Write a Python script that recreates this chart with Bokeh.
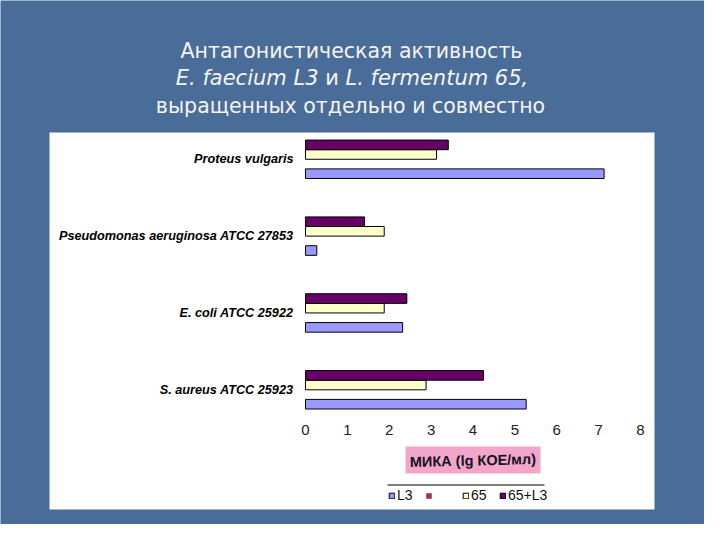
from bokeh.plotting import figure
from bokeh.models import (Range1d, FixedTicker, BoxAnnotation, Label,
                          Legend, LegendItem, ColumnDataSource)
from bokeh.transform import dodge
from bokeh.embed import file_html
from bokeh.resources import INLINE

# ---------------- data ----------------
organisms = ["Proteus vulgaris", "Pseudomonas aeruginosa ATCC 27853",
             "E. coli ATCC 25922", "S. aureus ATCC 25923"]
l3_values = [7.13, 0.27, 2.32, 5.27]
empty_series = [0, 0, 0, 0]
s65_values = [3.13, 1.88, 1.88, 2.88]
s65_l3_values = [3.41, 1.41, 2.42, 4.25]
x_ticks = [0, 1, 2, 3, 4, 5, 6, 7, 8]
series_labels = ["L3", "   ", "65", "65+L3"]
axis_title = "МИКА (lg КОЕ/мл)"
title_line1 = "Антагонистическая активность"
title_line2a = "E. faecium L3"
title_line2b = "и"
title_line2c = "L. fermentum 65,"
title_line3 = "выращенных отдельно и совместно"

# ---------------- layout / style ----------------
BG = "#4a6c98"
W, H = 704, 524
n = len(organisms)
group_y = [n - 1 - i + 0.5 for i in range(n)]          # category positions (top -> bottom)
label_map = {gy: name for gy, name in zip(group_y, organisms)}

src = ColumnDataSource(dict(org=organisms, y=group_y, l3=l3_values, red=empty_series,
                            s65=s65_values, s65l3=s65_l3_values))

px_x = 335 / 8.0          # pixels per x unit
px_y = 76.84              # pixels per category
x0_px = 305               # canvas x of value 0
yc_px = 389.3             # canvas y of bottom category centre
p = figure(width=W, height=H, output_backend="svg", toolbar_location=None,
           x_range=Range1d(-x0_px / px_x, 8 + (W - x0_px - 335) / px_x),
           y_range=Range1d(0.5 - (H - yc_px) / px_y, 0.5 + yc_px / px_y),
           min_border=0, min_border_left=0, min_border_right=0,
           min_border_top=0, min_border_bottom=0)
p.background_fill_color = BG
p.border_fill_color = BG
p.outline_line_color = None
p.xgrid.visible = False
p.ygrid.visible = False

def cbox(l, r, t, b, color, level="underlay"):
    p.add_layout(BoxAnnotation(left=l, right=r, top=t, bottom=b,
                               left_units="canvas", right_units="canvas",
                               top_units="canvas", bottom_units="canvas",
                               fill_color=color, fill_alpha=1, line_color=None,
                               level=level))

# white panel
cbox(49, 654, 132, 509, "white")

series = [("l3", "#9999FF", -0.1875, "black"),
          ("red", "#993366", -0.0625, None),
          ("s65", "#FFFFCC", 0.0625, "black"),
          ("s65l3", "#660066", 0.1875, "black")]
renderers = []
for col, color, off, lc in series:
    r = p.hbar(y=dodge("y", off), left=0, right=col,
               height=0.125, source=src, fill_color=color, line_color=lc,
               line_width=1)
    renderers.append(r)

# axes drawn inside the frame
p.xaxis.fixed_location = 0.5 - 0.4
p.xaxis.ticker = FixedTicker(ticks=x_ticks)
p.xaxis.axis_line_color = None
p.xaxis.major_tick_line_color = None
p.xaxis.minor_tick_line_color = None
p.xaxis.major_tick_out = 0
p.xaxis.major_label_standoff = 4
p.xaxis.major_label_text_font = "Liberation Sans"
p.xaxis.major_label_text_font_size = "15px"
p.xaxis.major_label_text_color = "#222222"

p.yaxis.fixed_location = 0
p.yaxis.ticker = FixedTicker(ticks=group_y)
p.yaxis.major_label_overrides = label_map
p.yaxis.axis_line_color = None
p.yaxis.major_tick_line_color = None
p.yaxis.minor_tick_line_color = None
p.yaxis.major_tick_out = 0
p.yaxis.major_label_standoff = 12
p.yaxis.major_label_text_font = "Liberation Sans"
p.yaxis.major_label_text_font_size = "12.7px"
p.yaxis.major_label_text_font_style = "bold italic"
p.yaxis.major_label_text_color = "black"

# title
TF = "DejaVu Sans"
TC = "#f4f4f4"
def canvas_label(x, y, text, align, style="normal", size="20.5px", font=TF, color=TC,
                 angle=0, baseline="middle"):
    p.add_layout(Label(x=x, y=y, x_units="canvas", y_units="canvas", text=text,
                       text_align=align, text_baseline=baseline,
                       text_font=font, text_font_size=size, text_font_style=style,
                       text_color=color, angle=angle))

canvas_label(351, 50, title_line1, "center")
canvas_label(318, 77, title_line2a, "right", "italic", "21px")
canvas_label(331.5, 77, title_line2b, "center", "normal", "21px")
canvas_label(345, 77, title_line2c, "left", "italic", "21px")
canvas_label(350, 105, title_line3, "center")

# pink axis-title box
cbox(405, 540, 446, 473, "#F4A6CA")
canvas_label(472.5, 460, axis_title, "center", "bold", "14.5px", "Liberation Sans",
             "#111122", 0.025, "middle")

# rule above the legend
cbox(387, 544, 484, 485, "black")

legend = Legend(items=[LegendItem(label=lab, renderers=[r])
                       for lab, r in zip(series_labels, renderers)],
                orientation="horizontal", location=(388, 21),
                glyph_width=7, glyph_height=7, label_height=12,
                label_standoff=2, spacing=8, padding=4, margin=0,
                label_text_font="Liberation Sans", label_text_font_size="14px",
                label_text_color="#111111",
                background_fill_alpha=0, border_line_color=None)
p.add_layout(legend, "center")

open("out.html", "w").write(file_html(p, INLINE))
